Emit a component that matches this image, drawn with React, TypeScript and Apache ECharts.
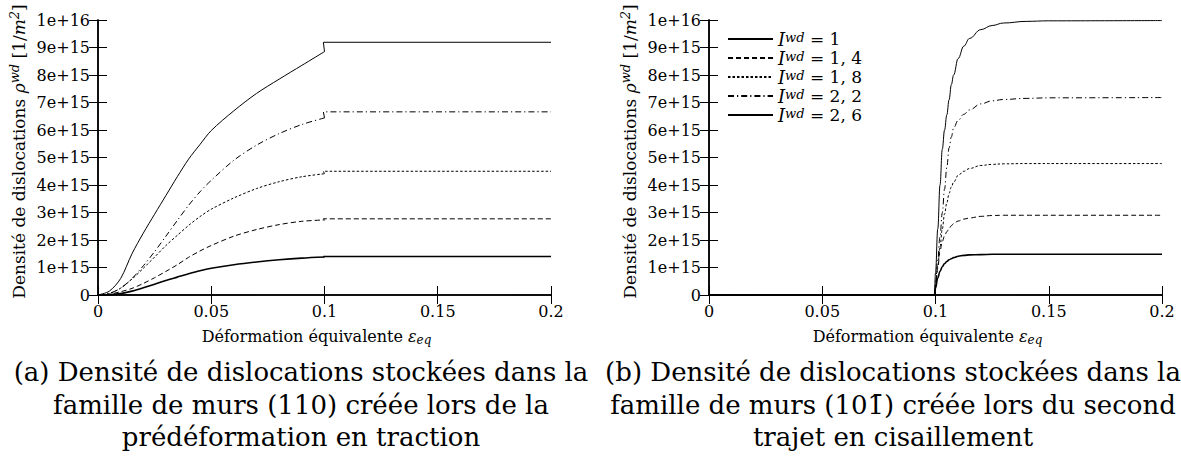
import React, { useEffect, useRef } from "react";
import * as echarts from "echarts";

// ---- data (densities in units of 1e15 m^-2) ----
// (a) traction pre-strain, wall family (110)
const strainA = [0, 0.005, 0.01, 0.015, 0.02, 0.025, 0.03, 0.035, 0.04, 0.045, 0.05, 0.06, 0.07, 0.08, 0.09, 0.1];
const a10 = [0, 0.01, 0.05, 0.14, 0.26, 0.39, 0.53, 0.65, 0.77, 0.88, 0.97, 1.1, 1.2, 1.28, 1.34, 1.38];
const a14 = [0, 0.03, 0.12, 0.24, 0.42, 0.63, 0.86, 1.1, 1.37, 1.6, 1.8, 2.14, 2.38, 2.56, 2.68, 2.73];
const a18 = [0, 0.05, 0.25, 0.58, 0.97, 1.38, 1.8, 2.17, 2.53, 2.85, 3.12, 3.53, 3.87, 4.12, 4.3, 4.41];
const a22 = [0, 0.06, 0.25, 0.6, 1.06, 1.58, 2.14, 2.71, 3.26, 3.75, 4.17, 4.9, 5.45, 5.87, 6.2, 6.44];
const a26 = [0, 0.14, 0.6, 1.5, 2.25, 2.94, 3.62, 4.3, 4.94, 5.47, 5.98, 6.7, 7.33, 7.85, 8.35, 8.85];
// plateau after the strain-path change (from x = 0.0995 to 0.2)
const plateauX = [0.0995, 0.2];
const plateauA = [1.4, 2.77, 4.5, 6.66, 9.19];

// (b) second path in shear, wall family (10-1)
const strainB = [0, 0.0995, 0.1, 0.101, 0.102, 0.103, 0.104, 0.105, 0.106, 0.107, 0.108, 0.11, 0.1125, 0.115, 0.12, 0.125, 0.13, 0.14, 0.15, 0.2];
const b10 = [0, 0, 0.25, 0.62, 0.86, 1.03, 1.14, 1.22, 1.28, 1.32, 1.36, 1.41, 1.44, 1.46, 1.47, 1.48, 1.48, 1.48, 1.48, 1.48];
const b14 = [0, 0, 0.32, 0.97, 1.61, 1.95, 2.15, 2.3, 2.42, 2.52, 2.6, 2.69, 2.76, 2.8, 2.86, 2.89, 2.9, 2.9, 2.9, 2.9];
const b18 = [0, 0, 0.35, 1.05, 1.75, 2.4, 2.95, 3.35, 3.7, 3.93, 4.1, 4.35, 4.5, 4.6, 4.71, 4.75, 4.77, 4.78, 4.78, 4.78];
const b22 = [0, 0, 0.43, 1.28, 2.14, 2.99, 3.85, 4.65, 5.35, 5.75, 6.08, 6.35, 6.57, 6.73, 6.95, 7.06, 7.11, 7.15, 7.17, 7.18];
const b26 = [0, 0, 0.8, 2.4, 4.0, 5.3, 6.0, 6.55, 7.1, 7.65, 8.0, 8.6, 9.05, 9.33, 9.65, 9.8, 9.89, 9.95, 9.97, 9.98];

const legendValues = ["1", "1, 4", "1, 8", "2, 2", "2, 6"];
const yTickLabels = ["0", "1e+15", "2e+15", "3e+15", "4e+15", "5e+15", "6e+15", "7e+15", "8e+15", "9e+15", "1e+16"];
const xTickLabels = ["0", "0.05", "0.1", "0.15", "0.2"];

const captionA = [
  "(a) Densité de dislocations stockées dans la",
  "famille de murs (110) créée lors de la",
  "prédéformation en traction",
];
const captionB = [
  "(b) Densité de dislocations stockées dans la",
  "famille de murs (101\u0304) créée lors du second",
  "trajet en cisaillement",
];

const FONT = "'DejaVu Serif', serif";
const lineStyles = [
  { type: "solid", width: 1.6 },
  { type: [5, 3], width: 1 },
  { type: [2.5, 2], width: 1 },
  { type: [6, 3, 1.2, 3], width: 1 },
  { type: "solid", width: 1 },
];

const names = legendValues.map((v) => `Iwd = ${v}`);

function xLabel(v: number) {
  const i = Math.round(v / 0.05);
  return xTickLabels[i] ?? "";
}
function yLabel(v: number) {
  return yTickLabels[Math.round(v)] ?? "";
}

function rich(size: number) {
  return {
    g: { fontFamily: FONT, fontStyle: "italic", fontSize: size, color: "#000" },
    s: { fontFamily: FONT, fontStyle: "italic", fontSize: size - 4, padding: [0, 0, 8, 0], color: "#000" },
    b: { fontFamily: FONT, fontStyle: "italic", fontSize: size - 4, padding: [7, 0, 0, 0], color: "#000" },
  };
}

function makeAxes(gi: number) {
  const tick = { show: true, inside: true, length: 9, lineStyle: { color: "#000", width: 1 } };
  const line = { show: true, lineStyle: { color: "#000", width: 1.5 } };
  const x = [
    {
      gridIndex: gi, type: "value", min: 0, max: 0.2, interval: 0.05, position: "bottom",
      axisLine: line, axisTick: tick, splitLine: { show: false },
      axisLabel: { formatter: xLabel, fontFamily: FONT, fontSize: 16, color: "#000", margin: 8 },
      name: "Déformation équivalente {g|ε}{b|eq}", nameLocation: "middle", nameGap: 32,
      nameTextStyle: { fontFamily: FONT, fontSize: 16, color: "#000", rich: rich(16), padding: [0, 16, 0, 0] },
    },
    {
      gridIndex: gi, type: "value", min: 0, max: 0.2, interval: 0.05, position: "top",
      axisLine: line, axisTick: tick, splitLine: { show: false }, axisLabel: { show: false },
    },
  ];
  const y = [
    {
      gridIndex: gi, type: "value", min: 0, max: 10, interval: 1, position: "left",
      axisLine: line, axisTick: tick, splitLine: { show: false },
      axisLabel: { formatter: yLabel, fontFamily: FONT, fontSize: 16, color: "#000", margin: 8 },
      name: "Densité de dislocations {g|ρ}{s|wd} [1/{g|m}{s|2}]", nameLocation: "middle", nameRotate: 90, nameGap: 69,
      nameTextStyle: { fontFamily: FONT, fontSize: 17, color: "#000", rich: rich(17), padding: [0, 0, 0, 12] },
    },
    {
      gridIndex: gi, type: "value", min: 0, max: 10, interval: 1, position: "right",
      axisLine: line, axisTick: tick, splitLine: { show: false }, axisLabel: { show: false },
    },
  ];
  return { x, y };
}

export default function App() {
  const ref = useRef<HTMLDivElement>(null);
  useEffect(() => {
    document.body.style.margin = "0";
    const chart = echarts.init(ref.current!, null, { renderer: "svg" });
    const ax0 = makeAxes(0);
    const ax1 = makeAxes(1);
    const seriesA = [a10, a14, a18, a22, a26];
    const seriesB = [b10, b14, b18, b22, b26];
    const series: any[] = [];
    seriesA.forEach((vals, k) => {
      const curve = strainA.map((x, i) => [x, vals[i]]);
      const last = curve[curve.length - 1];
      const base = {
        type: "line", name: names[k], xAxisIndex: 0, yAxisIndex: 0, symbol: "none",
        lineStyle: { color: "#000", ...lineStyles[k] }, itemStyle: { color: "#000" },
      };
      series.push({ ...base, data: curve, smooth: 0.3 });
      series.push({ ...base, data: [last, ...plateauX.map((x) => [x, plateauA[k]])] });
    });
    seriesB.forEach((vals, k) => {
      const data = strainB.map((x, i) => [x, vals[i]]);
      series.push({
        type: "line", name: names[k], xAxisIndex: 2, yAxisIndex: 2, data, smooth: 0.4, smoothMonotone: "x",
        symbol: "none", lineStyle: { color: "#000", ...lineStyles[k] }, itemStyle: { color: "#000" },
      });
    });
    const captionGraphics: any[] = [];
    [captionA, captionB].forEach((cap, ci) => {
      cap.forEach((line, li) => {
        captionGraphics.push({
          type: "text", x: ci === 0 ? 301 : 893, y: 372 + li * 32.5,
          style: { text: line, fill: "#000", font: `26px ${FONT}`, align: "center", verticalAlign: "middle" },
        });
      });
    });
    chart.setOption({
      animation: false,
      grid: [
        { left: 98, top: 20, width: 453, height: 275 },
        { left: 709, top: 20, width: 453, height: 275 },
      ],
      xAxis: [...ax0.x, ...ax1.x],
      yAxis: [...ax0.y, ...ax1.y],
      legend: {
        show: true, orient: "vertical", left: 727, top: 30, padding: 0, itemWidth: 45, itemHeight: 12, itemGap: 1,
        selectedMode: false, data: names,
        itemStyle: { color: "rgba(0,0,0,0)", borderWidth: 0 },
        formatter: (n: string) => `{i|I}{s|wd}{t| = ${legendValues[names.indexOf(n)]}}`,
        textStyle: {
          fontFamily: FONT, fontSize: 17, lineHeight: 16, color: "#000",
          rich: {
            i: { fontFamily: FONT, fontStyle: "italic", fontSize: 18, lineHeight: 16, color: "#000" },
            s: { fontFamily: FONT, fontStyle: "italic", fontSize: 13, lineHeight: 10, verticalAlign: "top", color: "#000" },
            t: { fontFamily: FONT, fontSize: 17, lineHeight: 16, color: "#000" },
          },
        },
      },
      series,
      graphic: captionGraphics,
    });
    return () => chart.dispose();
  }, []);
  return <div ref={ref} style={{ width: 1181, height: 462 }} />;
}
